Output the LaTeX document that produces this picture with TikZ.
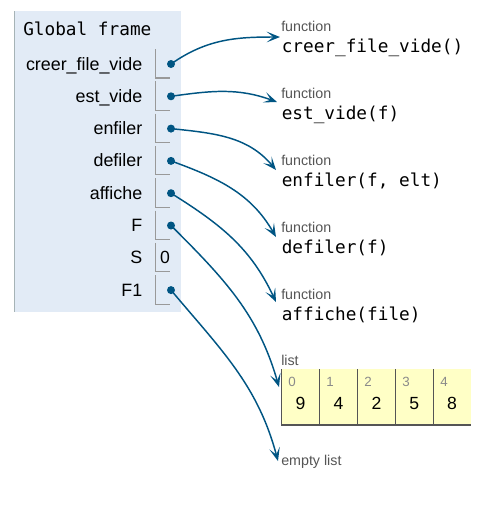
\documentclass[tikz,border=0pt]{standalone}
\usepackage{fontspec}
\setmainfont{Liberation Sans}
\setmonofont{DejaVu Sans Mono}
\usetikzlibrary{arrows.meta}

\definecolor{framebg}{HTML}{E2EBF6}
\definecolor{frameline}{HTML}{A6B3B6}
\definecolor{cellline}{HTML}{999999}
\definecolor{refblue}{HTML}{005583}
\definecolor{listbg}{HTML}{FFFFC6}
\definecolor{listline}{HTML}{555555}
\definecolor{typegray}{HTML}{555555}
\definecolor{idxgray}{HTML}{8A8A8A}

\begin{document}
\begin{tikzpicture}[x=0.75pt,y=-0.75pt,
    varname/.style={anchor=base east,inner sep=0pt,font=\fontsize{13.4}{15}\selectfont},
    cell/.style={cellline,line width=0.8pt},
    ptr/.style={circle,fill=refblue,inner sep=0pt,minimum size=6pt},
    ref/.style={refblue,line width=1.1pt,-{Stealth[length=10pt,width=8pt,inset=5pt]}},
    typelabel/.style={anchor=base west,inner sep=0pt,text=typegray,font=\fontsize{10.7}{12}\selectfont},
    funcname/.style={anchor=base west,inner sep=0pt,font=\ttfamily\fontsize{13.3}{16}\selectfont},
    idx/.style={anchor=base west,inner sep=0pt,text=idxgray,font=\fontsize{10}{11}\selectfont},
    val/.style={anchor=base,inner sep=0pt,font=\fontsize{13.2}{15}\selectfont}]

    \useasboundingbox (0,0) rectangle (494,512);

    \fill[framebg] (14.5,11) rectangle (180.7,312.3);
    \draw[frameline,line width=0.8pt] (14.5,11) -- (14.5,312.3);
    \node[anchor=base west,inner sep=0pt,font=\ttfamily\fontsize{13.3}{16}\selectfont] (head) at (23,35) {Global frame};

    \node[varname] (name1) at (142.5,70) {creer\_file\_vide};
    \node[varname] (name2) at (142.5,102.3) {est\_vide};
    \node[varname] (name3) at (142.5,134.6) {enfiler};
    \node[varname] (name4) at (142.5,166.9) {defiler};
    \node[varname] (name5) at (142.5,199.2) {affiche};
    \node[varname] (name6) at (142.5,231.5) {F};
    \node[varname] (name7) at (142.5,263.8) {S};
    \node[varname] (name8) at (142.5,296.1) {F1};

    \draw[cell] (155.5,49) -- (155.5,78) -- (170,78);
    \draw[cell] (155.5,81.3) -- (155.5,110.3) -- (170,110.3);
    \draw[cell] (155.5,113.6) -- (155.5,142.6) -- (170,142.6);
    \draw[cell] (155.5,145.9) -- (155.5,174.9) -- (170,174.9);
    \draw[cell] (155.5,178.2) -- (155.5,207.2) -- (170,207.2);
    \draw[cell] (155.5,210.5) -- (155.5,239.5) -- (170,239.5);
    \draw[cell] (155.5,242.8) -- (155.5,271.8) -- (170,271.8);
    \draw[cell] (155.5,275.1) -- (155.5,304.1) -- (170,304.1);

    \node[ptr] (ptr1) at (171,64) {};
    \node[ptr] (ptr2) at (171,96.3) {};
    \node[ptr] (ptr3) at (171,128.6) {};
    \node[ptr] (ptr4) at (171,160.9) {};
    \node[ptr] (ptr5) at (171,193.2) {};
    \node[ptr] (ptr6) at (171,225.5) {};
    \node[val] (sval) at (165,263.8) {0};
    \node[ptr] (ptr8) at (171,290.1) {};

    \node[typelabel] (type1) at (281,31) {function};
    \node[funcname] (fun1) at (281.5,52) {creer\_file\_vide()};
    \node[typelabel] (type2) at (281,98) {function};
    \node[funcname] (fun2) at (281.5,119) {est\_vide(f)};
    \node[typelabel] (type3) at (281,165) {function};
    \node[funcname] (fun3) at (281.5,186) {enfiler(f, elt)};
    \node[typelabel] (type4) at (281,232) {function};
    \node[funcname] (fun4) at (281.5,253) {defiler(f)};
    \node[typelabel] (type5) at (281,299) {function};
    \node[funcname] (fun5) at (281.5,320) {affiche(file)};

    \node[typelabel] (type6) at (281,365) {list};
    \fill[listbg] (281.7,369.3) rectangle (471,425);
    \draw[listline,line width=0.8pt] (281.7,369.3) -- (281.7,425) -- (471,425);
    \draw[listline,line width=0.8pt] (319.6,369.3) -- (319.6,425);
    \draw[listline,line width=0.8pt] (357.4,369.3) -- (357.4,425);
    \draw[listline,line width=0.8pt] (395.3,369.3) -- (395.3,425);
    \draw[listline,line width=0.8pt] (433.2,369.3) -- (433.2,425);
    \node[idx] (idx0) at (288,386) {0};
    \node[idx] (idx1) at (326,386) {1};
    \node[idx] (idx2) at (364,386) {2};
    \node[idx] (idx3) at (402,386) {3};
    \node[idx] (idx4) at (440,386) {4};
    \node[val] (elt0) at (300.6,409) {9};
    \node[val] (elt1) at (338.5,409) {4};
    \node[val] (elt2) at (376.4,409) {2};
    \node[val] (elt3) at (414.3,409) {5};
    \node[val] (elt4) at (452.1,409) {8};
    \node[typelabel] (type7) at (281,465) {empty list};

    \coordinate (tip1) at (280,37);
    \coordinate (tip2) at (277,102);
    \coordinate (tip3) at (276,170);
    \coordinate (tip4) at (276,237);
    \coordinate (tip5) at (276,302);
    \coordinate (tip6) at (279,387);
    \coordinate (tip7) at (278,461);

    \draw[ref] (ptr1.center) to[out=35,in=180] (tip1);
    \draw[ref] (ptr2.center) to[out=8,in=160] (tip2);
    \draw[ref] (ptr3.center) to[out=-6,in=130] (tip3);
    \draw[ref] (ptr4.center) to[out=-20,in=120] (tip4);
    \draw[ref] (ptr5.center) to[out=-32,in=115] (tip5);
    \draw[ref] (ptr6.center) to[out=-45,in=106] (tip6);
    \draw[ref] (ptr8.center) to[out=-50,in=105] (tip7);

\end{tikzpicture}
\end{document}
